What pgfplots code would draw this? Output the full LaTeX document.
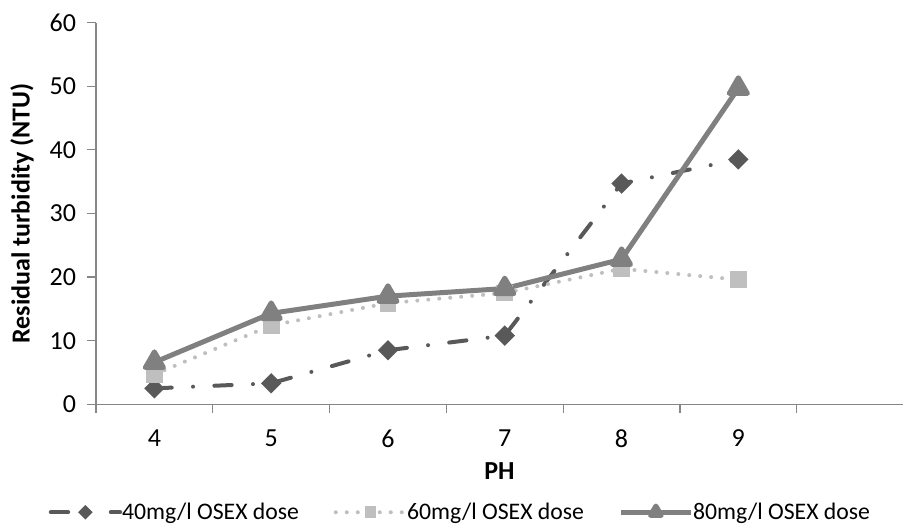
\documentclass[border=0pt]{standalone}
\usepackage{fontspec}
\setmainfont{Carlito}
\usepackage{pgfplots}
\pgfplotsset{compat=1.18}
\definecolor{cA}{HTML}{595959}
\definecolor{cB}{HTML}{BFBFBF}
\definecolor{cC}{HTML}{808080}
\definecolor{axc}{HTML}{868686}
\begin{document}
\begin{tikzpicture}
\useasboundingbox (-72pt,-93.5pt) rectangle (607.5pt,303.2pt);
\begin{axis}[
  at={(0,0)}, anchor=south west,
  scale only axis, width=605.25pt, height=286.2pt,
  xmin=3.5, xmax=10.41, ymin=0, ymax=60,
  axis lines=left,
  axis line style={-, axc, line width=0.9pt},
  xtick={3.5,4.5,...,9.5}, xticklabels={4,5,6,7,8,9},
  x tick label as interval,
  extra x ticks={10.5},
  ytick={0,10,...,60},
  tick align=outside, major tick length=6.5pt,
  tick style={axc, line width=0.9pt},
  ticklabel style={font=\fontsize{19.5}{22}\selectfont, text=black},
  xticklabel style={yshift=-9pt},
  yticklabel style={xshift=-5pt},
  /pgf/number format/assume math mode=true,
  xlabel={\textbf{PH}},
  ylabel={\textbf{Residual turbidity (NTU)}},
  label style={font=\fontsize{19.5}{22}\selectfont},
  xlabel style={at={(axis description cs:0.5,-0.175)}, anchor=center},
  ylabel style={at={(axis description cs:-0.0917,0.5)}, anchor=center},
  legend columns=-1,
  legend style={at={(axis description cs:0.452,-0.283)}, anchor=center,
    draw=none, font=\fontsize{17.8}{21}\selectfont,
    /tikz/every odd column/.append style={column sep=-2pt},
    /tikz/every even column/.append style={column sep=24pt}},
  legend image code/.code={\draw[mark repeat=2,mark phase=2,/tikz/every mark/.append style={scale=0.6}] plot coordinates {(0pt,0pt) (26pt,0pt) (52pt,0pt)};},
  clip=false,
]
\addplot[cA, line width=3pt, line cap=round, dash pattern=on 13pt off 16pt on 0pt off 16pt,
  mark=square*, mark size=3.9pt, mark options={solid, rotate=45, fill=cA, draw=none}]
  coordinates {(4,2.5) (5,3.3) (6,8.5) (7,10.8) (8,34.7) (9,38.5)};
\addlegendentry{40mg/l OSEX dose}
\addplot[cB, line width=3pt, line cap=round, dash pattern=on 0pt off 8.25pt,
  mark=square*, mark size=4.8pt, mark options={solid, fill=cB, draw=none}]
  coordinates {(4,4.7) (5,12.4) (6,15.9) (7,17.5) (8,21.3) (9,19.6)};
\addlegendentry{60mg/l OSEX dose}
\addplot[cC, line width=3.75pt, line join=round,
  mark=triangle*, mark size=7.8pt, mark options={solid, fill=cC, draw=none}]
  coordinates {(4,6.6) (5,14.3) (6,17.0) (7,18.2) (8,22.8) (9,49.7)};
\addlegendentry{80mg/l OSEX dose}
\end{axis}
\end{tikzpicture}
\end{document}
